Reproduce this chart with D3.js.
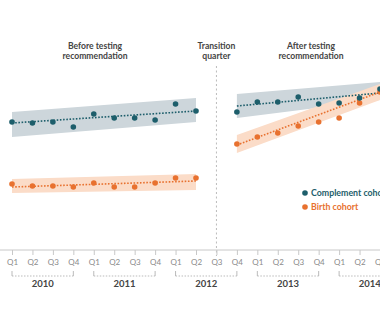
<!DOCTYPE html>
<html><head><meta charset="utf-8">
<script src="https://cdn.jsdelivr.net/npm/d3@7"></script>
<style>
html,body{margin:0;padding:0;background:#fff;}
svg{display:block;font-family:Lato,"Open Sans",sans-serif;}
</style></head>
<body><svg id="c" width="380" height="330"></svg>
<script>
// quarters (index 0 = 2010 Q1)
const quarters = ["Q1","Q2","Q3","Q4","Q1","Q2","Q3","Q4","Q1","Q2","Q3","Q4","Q1","Q2","Q3","Q4","Q1","Q2","Q3"];
const years = ["2010","2011","2012","2013","2014"];
const yearStart = [0,4,8,12,16];
const yearEnd = [3,7,11,15,19];
const transitionIndex = 10;

// series values (arbitrary rate units)
const beforeIdx = [0,1,2,3,4,5,6,7,8,9];
const afterIdx = [11,12,13,14,15,16,17,18];
const complementBefore = [128,127,128,123,136,132,132,130,146,139];
const complementAfter = [138,148,148,153,146,147,152,161];
const birthBefore = [66,64,64,63,67,63,63,67,72,72];
const birthAfter = [106,113,117,124,128,132,147,158];

// fitted trend lines and confidence bands: [index, fit, low, high]
const complementTrendBefore = [[0,127,113,138],[9,139,128,152]];
const complementTrendAfter = [[11,144,132,156],[18,157,150,168]];
const birthTrendBefore = [[0,63,57,71],[9,69,60,76]];
const birthTrendAfter = [[11,105,97,115],[18,158,150,166]];

const seriesNames = ["Complement cohort","Birth cohort"];
const periodLabels = [["Before testing","recommendation"],["Transition","quarter"],["After testing","recommendation"]];

const teal = "#1d5e6b", orange = "#e8712f";
const svg = d3.select("#c");
const x = d3.scaleLinear().domain([0,18]).range([12,380]);
const y = d3.scaleLinear().domain([0,200]).range([250,50]);

// bands
function band(data, fill){
  svg.append("path").datum(data)
    .attr("d", d3.area().x(d=>x(d[0])).y0(d=>y(d[2])).y1(d=>y(d[3])))
    .attr("fill", fill);
}
band(complementTrendBefore, "#cdd6db");
band(complementTrendAfter, "#cdd6db");
band(birthTrendBefore, "#fbdcc8");
band(birthTrendAfter, "#fbdcc8");

// transition dashed line
svg.append("line").attr("x1",x(transitionIndex)).attr("x2",x(transitionIndex))
  .attr("y1",66).attr("y2",256).attr("stroke","#bbb").attr("stroke-width",1).attr("stroke-dasharray","2,2.5");

// trend lines
function trend(data, color){
  svg.append("path").datum(data)
    .attr("d", d3.line().x(d=>x(d[0])).y(d=>y(d[1])))
    .attr("fill","none").attr("stroke",color).attr("stroke-width",1.6).attr("stroke-dasharray","1.6,1.6");
}
trend(complementTrendBefore, teal);
trend(complementTrendAfter, teal);
trend(birthTrendBefore, orange);
trend(birthTrendAfter, orange);

// points
function pts(idx, vals, color){
  svg.append("g").selectAll("circle").data(vals).join("circle")
    .attr("cx",(d,i)=>x(idx[i])).attr("cy",d=>y(d)).attr("r",2.8).attr("fill",color);
}
pts(beforeIdx, birthBefore, orange);
pts(afterIdx, birthAfter, orange);
pts(beforeIdx, complementBefore, teal);
pts(afterIdx, complementAfter, teal);

// x axis
const axis = d3.axisBottom(x).tickValues(d3.range(quarters.length)).tickFormat(i=>quarters[i]).tickSize(5).tickPadding(4);
const ag = svg.append("g").attr("transform","translate(0,250)").call(axis);
ag.select(".domain").attr("d","M0,0H380").attr("stroke","#c8c8c8");
ag.selectAll(".tick line").attr("stroke","#c8c8c8");
ag.selectAll(".tick text").attr("fill","#8a8a8a").attr("font-size","8px").attr("font-family","Lato,sans-serif");

// year brackets
years.forEach((yr,k)=>{
  const x0 = x(yearStart[k]), x1 = x(Math.min(yearEnd[k],18.5));
  const g = svg.append("g");
  g.append("line").attr("x1",x0).attr("x2",x1).attr("y1",276).attr("y2",276)
    .attr("stroke","#aaa").attr("stroke-width",0.8).attr("stroke-dasharray","1.5,1.5");
  g.append("line").attr("x1",x0).attr("x2",x0).attr("y1",271).attr("y2",276).attr("stroke","#aaa").attr("stroke-width",0.8);
  if (yearEnd[k] <= 18) g.append("line").attr("x1",x1).attr("x2",x1).attr("y1",271).attr("y2",276).attr("stroke","#aaa").attr("stroke-width",0.8);
  g.append("text").attr("x",(x(yearStart[k])+x(yearStart[k]+3))/2).attr("y",287).attr("text-anchor","middle")
    .attr("font-size","9.5px").attr("font-weight",700).attr("fill","#444").text(yr);
});

// period labels
const periodX = [95, x(transitionIndex), 311];
periodLabels.forEach((lines,k)=>{
  const t = svg.append("text").attr("text-anchor","middle").attr("font-size","8.6px").attr("font-weight",700).attr("fill","#444");
  lines.forEach((l,j)=>t.append("tspan").attr("x",periodX[k]).attr("y",49+j*10).text(l));
});

// legend
const legColors = [teal, orange];
seriesNames.forEach((n,k)=>{
  const gy = 193 + k*14;
  svg.append("circle").attr("cx",305).attr("cy",gy).attr("r",2.8).attr("fill",legColors[k]);
  svg.append("text").attr("x",311).attr("y",gy+3).attr("font-size","8.8px").attr("font-weight",700)
    .attr("fill",legColors[k]).text(n);
});
</script></body></html>
